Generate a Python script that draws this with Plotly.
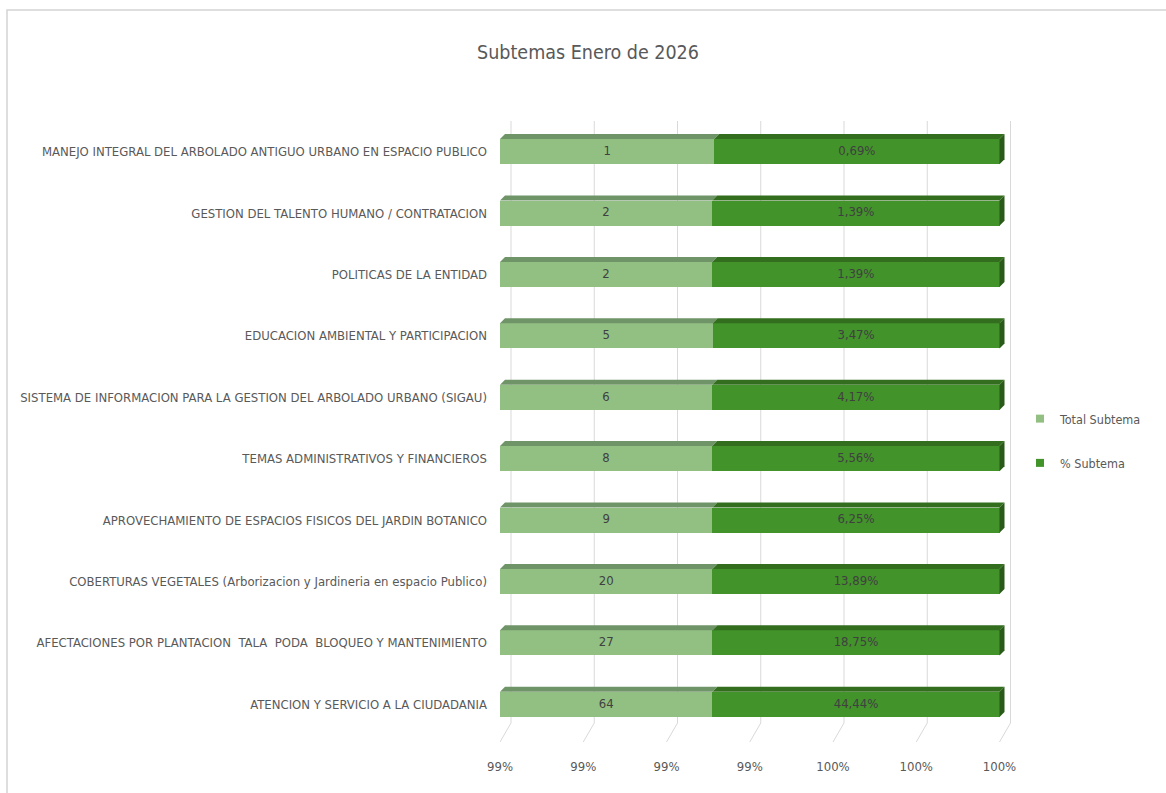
import plotly.graph_objects as go

# ---------------- data (bottom -> top) ----------------
categories = [
    "ATENCION Y SERVICIO A LA CIUDADANIA",
    "AFECTACIONES POR PLANTACION  TALA  PODA  BLOQUEO Y MANTENIMIENTO",
    "COBERTURAS VEGETALES (Arborizacion y Jardineria en espacio Publico)",
    "APROVECHAMIENTO DE ESPACIOS FISICOS DEL JARDIN BOTANICO",
    "TEMAS ADMINISTRATIVOS Y FINANCIEROS",
    "SISTEMA DE INFORMACION PARA LA GESTION DEL ARBOLADO URBANO (SIGAU)",
    "EDUCACION AMBIENTAL Y PARTICIPACION",
    "POLITICAS DE LA ENTIDAD",
    "GESTION DEL TALENTO HUMANO / CONTRATACION",
    "MANEJO INTEGRAL DEL ARBOLADO ANTIGUO URBANO EN ESPACIO PUBLICO",
]
total_subtema = [64, 27, 20, 9, 8, 6, 5, 2, 2, 1]
pct_subtema = [0.4444, 0.1875, 0.1389, 0.0625, 0.0556, 0.0417, 0.0347, 0.0139, 0.0139, 0.0069]
x_tick_vals = [0.988, 0.990, 0.992, 0.994, 0.996, 0.998, 1.000]

# ---------------- styling / geometry ----------------
FONT = "DejaVu Sans Condensed, Liberation Sans Narrow, sans-serif"
LIGHT, LIGHT_TOP = "#92C083", "#6F9467"
DARK, DARK_TOP, DARK_SIDE = "#43932B", "#336E1F", "#2A5A19"
GRID = "#D9D9D9"
TXT = "#404040"
LBL = "#595959"

W, H = 1166, 793
ML, MR, MT, MB = 500, 154, 121, 58
XMIN, XMAX = 0.988, 1.0003
plot_w = W - ML - MR
plot_h = H - MT - MB
ux = (XMAX - XMIN) / plot_w          # data units per px (x)
uy = 10.0 / plot_h                   # data units per px (y)
BW = 0.41                            # bar thickness (category units)
DX, DY = 5 * ux, 5 * uy              # 3D depth of the bars
GX = 11 * ux                         # back-wall offset of the gridlines

n = len(categories)
ypos = list(range(n))
share = [t / (t + p) for t, p in zip(total_subtema, pct_subtema)]

fig = go.Figure()
fig.add_trace(go.Bar(y=ypos, x=total_subtema, orientation="h", name="Total Subtema",
                     marker=dict(color=LIGHT, line=dict(width=0)), width=BW,
                     showlegend=False, hoverinfo="x+y"))
fig.add_trace(go.Bar(y=ypos, x=pct_subtema, orientation="h", name="% Subtema",
                     marker=dict(color=DARK, line=dict(width=0)), width=BW,
                     showlegend=False, hoverinfo="x+y"))

# data labels
fig.add_trace(go.Scatter(x=[(XMIN + s) / 2 for s in share], y=ypos, mode="text",
                         text=[str(t) for t in total_subtema],
                         textfont=dict(family=FONT, size=13, color=TXT),
                         showlegend=False, hoverinfo="skip"))
fig.add_trace(go.Scatter(x=[(s + 1.0) / 2 for s in share], y=ypos, mode="text",
                         text=[f"{p*100:.2f}".replace(".", ",") + "%" for p in pct_subtema],
                         textfont=dict(family=FONT, size=13, color=TXT),
                         showlegend=False, hoverinfo="skip"))

# legend entries (small squares)
fig.add_trace(go.Scatter(x=[None], y=[None], mode="markers", name="Total Subtema",
                         legendgroup="a", marker=dict(symbol="square", size=8, color=LIGHT)))
fig.add_trace(go.Scatter(x=[None], y=[None], mode="markers", name="% Subtema",
                         legendgroup="b", marker=dict(symbol="square", size=8, color=DARK)))

shapes = []
# chart frame
shapes.append(dict(type="rect", xref="paper", yref="paper",
                   x0=(7 - ML) / plot_w, x1=(W + 10 - ML) / plot_w,
                   y0=-80 / plot_h, y1=(H - MB - 10) / plot_h,
                   line=dict(color="#D4D4D4", width=1.5), layer="below"))
# gridlines on back wall + floor ticks
for t in x_tick_vals:
    shapes.append(dict(type="line", xref="x", yref="paper", x0=t + GX, x1=t + GX,
                       y0=12 / plot_h, y1=1.0, line=dict(color=GRID, width=1), layer="below"))
    shapes.append(dict(type="line", xref="x", yref="paper", x0=t + GX, x1=t,
                       y0=12 / plot_h, y1=-7 / plot_h, line=dict(color=GRID, width=1), layer="below"))
# 3D faces of bars
for i, s in zip(ypos, share):
    yt = i + BW / 2
    yb = i - BW / 2
    shapes.append(dict(type="path", xref="x", yref="y", layer="above", line=dict(width=0),
                       fillcolor=LIGHT_TOP,
                       path=f"M{XMIN},{yt} L{XMIN + DX},{yt + DY} L{s + DX},{yt + DY} L{s},{yt} Z"))
    shapes.append(dict(type="path", xref="x", yref="y", layer="above", line=dict(width=0),
                       fillcolor=DARK_TOP,
                       path=f"M{s},{yt} L{s + DX},{yt + DY} L{1.0 + DX},{yt + DY} L{1.0},{yt} Z"))
    shapes.append(dict(type="path", xref="x", yref="y", layer="above", line=dict(width=0),
                       fillcolor=DARK_SIDE,
                       path=f"M1.0,{yb} L1.0,{yt} L{1.0 + DX},{yt + DY} L{1.0 + DX},{yb + DY} Z"))

fig.update_layout(
    width=W, height=H,
    margin=dict(l=ML, r=MR, t=MT, b=MB, autoexpand=False),
    paper_bgcolor="white", plot_bgcolor="white",
    barmode="stack", barnorm="fraction",
    font=dict(family=FONT, color=LBL),
    title=dict(text="Subtemas Enero de 2026", x=588 / W, xanchor="center",
               y=1 - 52 / H, yanchor="middle",
               font=dict(family=FONT, size=19.5, color=LBL)),
    xaxis=dict(range=[XMIN, XMAX], tickvals=x_tick_vals, tickformat=".0%",
               showgrid=False, zeroline=False, showline=False, ticks="",
               automargin=False, ticklabelstandoff=22,
               tickfont=dict(family=FONT, size=13, color=LBL)),
    yaxis=dict(range=[-0.5, n - 0.5], tickvals=ypos, ticktext=categories,
               showgrid=False, zeroline=False, showline=False, ticks="",
               automargin=False, ticklabelstandoff=12,
               tickfont=dict(family=FONT, size=13, color=LBL)),
    legend=dict(x=(1020 - ML) / plot_w, xanchor="left", y=(H - MB - 441) / plot_h,
                yanchor="middle", traceorder="grouped", tracegroupgap=25,
                font=dict(family=FONT, size=12.5, color=LBL),
                itemwidth=30, bgcolor="rgba(0,0,0,0)"),
    shapes=shapes,
)

fig.write_html("out.html")
